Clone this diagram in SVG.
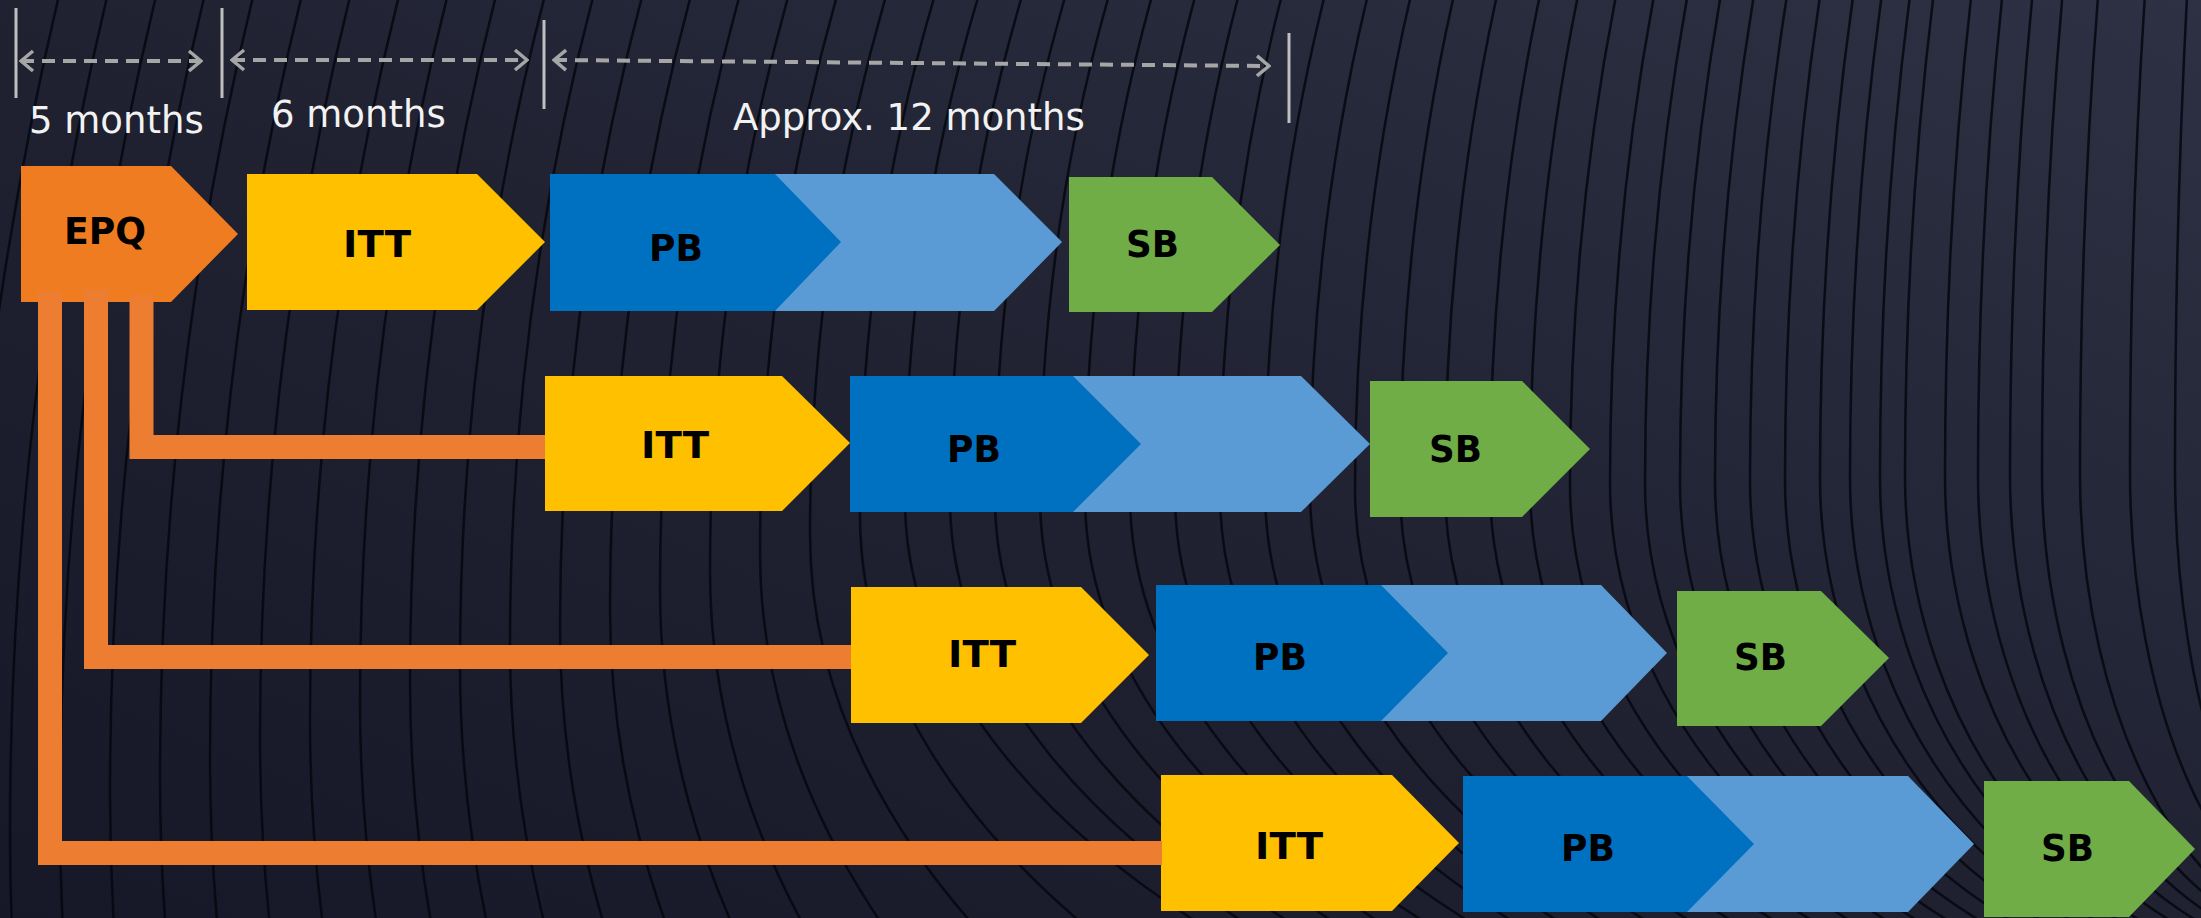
<svg xmlns="http://www.w3.org/2000/svg" width="2201" height="918" viewBox="0 0 2201 918">
<defs>
<linearGradient id="bg" x1="0" y1="1" x2="1" y2="0">
<stop offset="0" stop-color="#161827"/>
<stop offset="0.5" stop-color="#202232"/>
<stop offset="1" stop-color="#2d3143"/>
</linearGradient>
<marker id="chev" viewBox="0 0 16 24" refX="14" refY="12" markerWidth="16" markerHeight="24" markerUnits="userSpaceOnUse" orient="auto-start-reverse">
<path d="M2,2 L14,12 L2,22" fill="none" stroke="#a6a6a6" stroke-width="3.5"/>
</marker>
<style>
.bgl{fill:none;stroke:#05070f;stroke-width:2.5;opacity:0.85}
.tick{stroke:#bfbfbf;stroke-width:3}
.dim{stroke:#a6a6a6;stroke-width:4;stroke-dasharray:13 8;fill:none;marker-start:url(#chev);marker-end:url(#chev)}
.mo{font-family:"DejaVu Sans","Liberation Sans",sans-serif;font-size:37px;fill:#f2f2f2}
.lbl{font-family:"DejaVu Sans","Liberation Sans",sans-serif;font-weight:bold;font-size:38px;fill:#000}
.epq{fill:#f07c22}
.itt{fill:#ffc000}
.pbd{fill:#0070c0}
.pbl{fill:#5b9bd5}
.sb{fill:#70ad47}
.con{fill:none;stroke:#ed7d31;stroke-width:24;stroke-linejoin:miter;stroke-linecap:butt}
</style>
</defs>
<rect x="0" y="0" width="2201" height="918" fill="url(#bg)"/>
<path class="bgl" d="M2350,-2150A2390,3000 0 0 0 -40,850A2390,2500 0 0 0 2350,3350
M2350,-2095A2340,2926 0 0 0 10,831A2340,2404 0 0 0 2350,3235
M2350,-2038A2290,2851 0 0 0 60,813A2290,2309 0 0 0 2350,3122
M2350,-1983A2240,2777 0 0 0 110,794A2240,2213 0 0 0 2350,3007
M2350,-1926A2190,2702 0 0 0 160,776A2190,2117 0 0 0 2350,2893
M2350,-1871A2140,2628 0 0 0 210,757A2140,2021 0 0 0 2350,2778
M2350,-1815A2090,2553 0 0 0 260,738A2090,1926 0 0 0 2350,2664
M2350,-1759A2040,2479 0 0 0 310,720A2040,1830 0 0 0 2350,2550
M2350,-1703A1990,2404 0 0 0 360,701A1990,1734 0 0 0 2350,2435
M2350,-1648A1940,2330 0 0 0 410,682A1940,1638 0 0 0 2350,2320
M2350,-1591A1890,2255 0 0 0 460,664A1890,1542 0 0 0 2350,2206
M2350,-1536A1840,2181 0 0 0 510,645A1840,1447 0 0 0 2350,2092
M2350,-1479A1790,2106 0 0 0 560,627A1790,1351 0 0 0 2350,1978
M2350,-1424A1740,2032 0 0 0 610,608A1740,1255 0 0 0 2350,1863
M2350,-1368A1690,1957 0 0 0 660,589A1690,1160 0 0 0 2350,1749
M2350,-1312A1640,1883 0 0 0 710,571A1640,1064 0 0 0 2350,1635
M2350,-1257A1590,1809 0 0 0 760,552A1590,968 0 0 0 2350,1520
M2350,-1200A1540,1734 0 0 0 810,534A1540,872 0 0 0 2350,1406
M2350,-1145A1490,1660 0 0 0 860,515A1490,777 0 0 0 2350,1292
M2350,-1100A1445,1600 0 0 0 905,500A1445,700 0 0 0 2350,1200
M2350,-1089A1400,1588 0 0 0 950,499A1400,690 0 0 0 2350,1189
M2350,-1080A1355,1578 0 0 0 995,498A1355,681 0 0 0 2350,1179
M2350,-1070A1310,1567 0 0 0 1040,497A1310,673 0 0 0 2350,1170
M2350,-1061A1265,1557 0 0 0 1085,496A1265,664 0 0 0 2350,1160
M2350,-1051A1220,1546 0 0 0 1130,495A1220,655 0 0 0 2350,1150
M2350,-1042A1175,1536 0 0 0 1175,494A1175,646 0 0 0 2350,1140
M2350,-1032A1130,1525 0 0 0 1220,493A1130,638 0 0 0 2350,1131
M2350,-1023A1085,1514 0 0 0 1265,491A1085,629 0 0 0 2350,1120
M2350,-1014A1040,1504 0 0 0 1310,490A1040,620 0 0 0 2350,1110
M2350,-1004A995,1493 0 0 0 1355,489A995,611 0 0 0 2350,1100
M2350,-995A950,1483 0 0 0 1400,488A950,602 0 0 0 2350,1090
M2350,-985A905,1472 0 0 0 1445,487A905,594 0 0 0 2350,1081
M2350,-976A860,1462 0 0 0 1490,486A860,585 0 0 0 2350,1071
M2350,-967A820,1452 0 0 0 1530,485A820,577 0 0 0 2350,1062
M2350,-959A780,1443 0 0 0 1570,484A780,569 0 0 0 2350,1053
M2350,-951A740,1434 0 0 0 1610,483A740,561 0 0 0 2350,1044
M2350,-942A705,1425 0 0 0 1645,483A705,554 0 0 0 2350,1037
M2350,-935A670,1417 0 0 0 1680,482A670,548 0 0 0 2350,1030
M2350,-928A635,1409 0 0 0 1715,481A635,541 0 0 0 2350,1022
M2350,-921A600,1401 0 0 0 1750,480A600,534 0 0 0 2350,1014
M2350,-914A565,1393 0 0 0 1785,479A565,527 0 0 0 2350,1006
M2350,-906A530,1384 0 0 0 1820,478A530,520 0 0 0 2350,998
M2350,-899A500,1377 0 0 0 1850,478A500,514 0 0 0 2350,992
M2350,-893A470,1370 0 0 0 1880,477A470,509 0 0 0 2350,986
M2350,-888A445,1364 0 0 0 1905,476A445,504 0 0 0 2350,980
M2350,-879A405,1355 0 0 0 1945,476A405,496 0 0 0 2350,972
M2350,-872A372,1347 0 0 0 1978,475A372,489 0 0 0 2350,964
M2350,-866A340,1340 0 0 0 2010,474A340,483 0 0 0 2350,957
M2350,-859A308,1332 0 0 0 2042,473A308,477 0 0 0 2350,950
M2350,-853A270,1326 0 0 0 2080,473A270,472 0 0 0 2350,945
M2350,-840A220,1309 0 0 0 2130,471A220,458 0 0 0 2350,929
M2350,-831A175,1301 0 0 0 2175,470A175,451 0 0 0 2350,921"/>
<g id="timeline">
<line class="tick" x1="16" y1="8" x2="16" y2="98"/>
<line class="tick" x1="222" y1="8" x2="222" y2="98"/>
<line class="tick" x1="544" y1="20" x2="544" y2="109"/>
<line class="tick" x1="1289" y1="33" x2="1289" y2="123"/>
<line class="dim" x1="21" y1="61" x2="201" y2="61"/>
<line class="dim" x1="232" y1="60" x2="527" y2="60"/>
<line class="dim" x1="554" y1="60" x2="1269" y2="66"/>
<text class="mo" x="29" y="133">5 months</text>
<text class="mo" x="271" y="127">6 months</text>
<text class="mo" x="733" y="130">Approx. 12 months</text>
</g>
<g id="epq">
<polygon class="epq" points="21,166 171,166 238,234 171,302 21,302"/>
<text class="lbl" x="64" y="244" textLength="82" lengthAdjust="spacingAndGlyphs">EPQ</text>
</g>
<g id="itt-1">
<polygon class="itt" points="247,174 477,174 545,242 477,310 247,310"/>
<text class="lbl" x="343" y="257" textLength="68" lengthAdjust="spacingAndGlyphs">ITT</text>
</g>
<g id="pb-1">
<polygon class="pbl" points="700,174 994,174 1062,242 994,311 700,311"/>
<polygon class="pbd" points="550,174 775,174 841,242 775,311 550,311"/>
<text class="lbl" x="649" y="261" textLength="54" lengthAdjust="spacingAndGlyphs">PB</text>
</g>
<g id="sb-1">
<polygon class="sb" points="1069,177 1212,177 1280,245 1212,312 1069,312"/>
<text class="lbl" x="1126" y="257" textLength="53" lengthAdjust="spacingAndGlyphs">SB</text>
</g>
<g id="itt-2">
<polygon class="itt" points="545,376 782,376 850,443 782,511 545,511"/>
<text class="lbl" x="641" y="458" textLength="68" lengthAdjust="spacingAndGlyphs">ITT</text>
</g>
<g id="pb-2">
<polygon class="pbl" points="1000,376 1301,376 1370,444 1301,512 1000,512"/>
<polygon class="pbd" points="850,376 1073,376 1141,444 1073,512 850,512"/>
<text class="lbl" x="947" y="462" textLength="54" lengthAdjust="spacingAndGlyphs">PB</text>
</g>
<g id="sb-2">
<polygon class="sb" points="1370,381 1522,381 1590,449 1522,517 1370,517"/>
<text class="lbl" x="1429" y="462" textLength="53" lengthAdjust="spacingAndGlyphs">SB</text>
</g>
<g id="itt-3">
<polygon class="itt" points="851,587 1081,587 1149,655 1081,723 851,723"/>
<text class="lbl" x="948" y="667" textLength="68" lengthAdjust="spacingAndGlyphs">ITT</text>
</g>
<g id="pb-3">
<polygon class="pbl" points="1300,585 1601,585 1667,653 1601,721 1300,721"/>
<polygon class="pbd" points="1156,585 1381,585 1448,653 1381,721 1156,721"/>
<text class="lbl" x="1253" y="670" textLength="54" lengthAdjust="spacingAndGlyphs">PB</text>
</g>
<g id="sb-3">
<polygon class="sb" points="1677,591 1821,591 1889,658 1821,726 1677,726"/>
<text class="lbl" x="1734" y="670" textLength="53" lengthAdjust="spacingAndGlyphs">SB</text>
</g>
<g id="itt-4">
<polygon class="itt" points="1161,775 1392,775 1459,843 1392,911 1161,911"/>
<text class="lbl" x="1255" y="859" textLength="68" lengthAdjust="spacingAndGlyphs">ITT</text>
</g>
<g id="pb-4">
<polygon class="pbl" points="1600,776 1908,776 1974,844 1908,912 1600,912"/>
<polygon class="pbd" points="1463,776 1687,776 1754,844 1687,912 1463,912"/>
<text class="lbl" x="1561" y="861" textLength="54" lengthAdjust="spacingAndGlyphs">PB</text>
</g>
<g id="sb-4">
<polygon class="sb" points="1984,781 2129,781 2195,849 2129,917 1984,917"/>
<text class="lbl" x="2041" y="861" textLength="53" lengthAdjust="spacingAndGlyphs">SB</text>
</g>
<g id="connectors">
<path class="con" d="M50,292 V853 H1162"/>
<path class="con" d="M96,289 V657 H851"/>
<path class="con" d="M141.5,295 V447 H545"/>
</g>
</svg>
